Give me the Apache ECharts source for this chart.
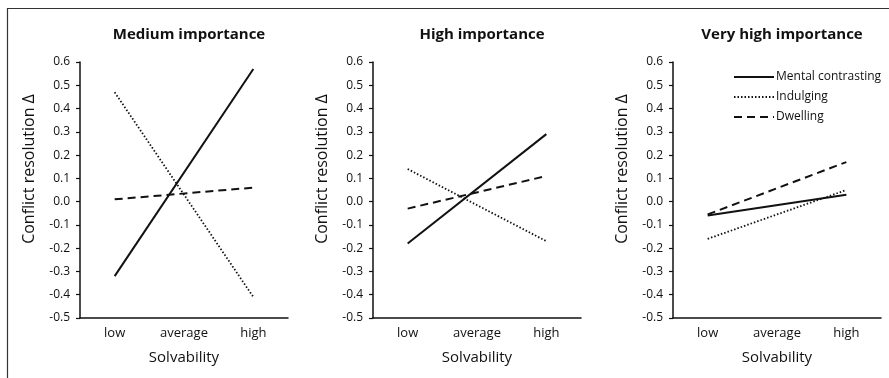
<!DOCTYPE html>
<html>
<head>
<meta charset="utf-8">
<script src="https://cdn.jsdelivr.net/npm/echarts@6/dist/echarts.min.js"></script>
<style>
  html, body { margin: 0; padding: 0; background: #fff; }
  #chart { width: 889px; height: 378px; }
</style>
</head>
<body>
<div id="chart"></div>
<script>
// solvability levels on the x axis
const categories = ['low', 'average', 'high'];
const panelTitles = ['Medium importance', 'High importance', 'Very high importance'];
const seriesNames = ['Mental contrasting', 'Indulging', 'Dwelling'];

// values read at low and high solvability (straight lines, middle left empty)
const mentalContrasting = [
  [-0.32, null, 0.57],
  [-0.18, null, 0.29],
  [-0.06, null, 0.03]
];
const indulging = [
  [0.47, null, -0.41],
  [0.14, null, -0.17],
  [-0.16, null, 0.05]
];
const dwelling = [
  [0.01, null, 0.06],
  [-0.03, null, 0.11],
  [-0.055, null, 0.17]
];

const font = '"Open Sans", "Noto Sans", sans-serif';
const ink = '#111';

const gridLefts = [80, 373, 673];
const gridWidths = [208, 208, 208];

const chart = echarts.init(document.getElementById('chart'), null, { renderer: 'canvas' });

const grids = [], xAxes = [], yAxes = [], series = [], titles = [];

gridLefts.forEach((left, i) => {
  grids.push({ left: left, width: gridWidths[i], top: 62, bottom: 60 });
  titles.push({
    text: panelTitles[i],
    left: left + gridWidths[i] / 2,
    top: 22,
    textAlign: 'center',
    textStyle: { fontFamily: font, fontSize: 15, fontWeight: 'bold', color: ink }
  });
  xAxes.push({
    type: 'category',
    gridIndex: i,
    data: categories,
    boundaryGap: true,
    name: 'Solvability',
    nameLocation: 'middle',
    nameGap: 32,
    nameTextStyle: { fontFamily: font, fontSize: 15, color: ink },
    axisLine: { onZero: false, lineStyle: { color: ink, width: 1.5 } },
    axisTick: { show: false },
    axisLabel: { fontFamily: font, fontSize: 13, color: ink, margin: 9 }
  });
  yAxes.push({
    type: 'value',
    gridIndex: i,
    min: -0.5,
    max: 0.6,
    interval: 0.1,
    name: 'Conflict resolution Δ',
    nameLocation: 'middle',
    nameGap: 43,
    nameTextStyle: { fontFamily: font, fontSize: 16, color: ink, padding: [0, 0, 0, 42] },
    axisLine: { show: true, onZero: false, lineStyle: { color: ink, width: 1.5 } },
    axisTick: { show: true, length: 4, lineStyle: { color: ink, width: 1.2 } },
    splitLine: { show: false },
    axisLabel: {
      fontFamily: font, fontSize: 12, color: ink, margin: 10,
      formatter: v => v.toFixed(1)
    }
  });

  const sets = [mentalContrasting[i], indulging[i], dwelling[i]];
  const types = ['solid', [1.5, 2], [8, 5]];
  sets.forEach((d, k) => {
    series.push({
      name: seriesNames[k],
      type: 'line',
      xAxisIndex: i,
      yAxisIndex: i,
      data: d,
      connectNulls: true,
      symbol: 'none',
      silent: true,
      lineStyle: { color: ink, width: k === 1 ? 1.8 : 2, type: types[k] },
      itemStyle: { color: ink }
    });
  });
});

chart.setOption({
  backgroundColor: '#fff',
  animation: false,
  title: titles,
  grid: grids,
  xAxis: xAxes,
  yAxis: yAxes,
  series: series,
  legend: {
    orient: 'vertical',
    left: 728,
    top: 66,
    itemWidth: 40,
    itemHeight: 12,
    itemGap: 8,
    data: seriesNames,
    itemStyle: { color: 'rgba(0,0,0,0)', borderColor: 'rgba(0,0,0,0)', borderWidth: 0 },
    textStyle: { fontFamily: font, fontSize: 12, color: ink, padding: [0, 0, 0, -3] },
    selectedMode: false
  },
  graphic: [{
    type: 'rect',
    shape: { x: 7.5, y: 8.5, width: 900, height: 400 },
    style: { fill: 'none', stroke: '#333', lineWidth: 1.2 },
    silent: true
  }]
});
</script>
</body>
</html>
